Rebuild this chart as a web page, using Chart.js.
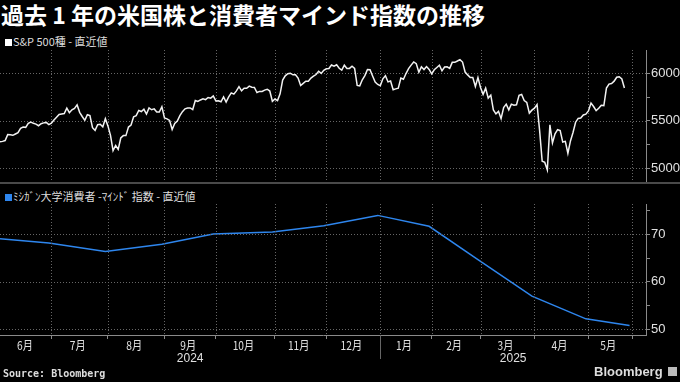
<!DOCTYPE html>
<html><head><meta charset="utf-8">
<script src="https://cdn.jsdelivr.net/npm/chart.js@4.4.1/dist/chart.umd.min.js"></script>
<style>
html,body{margin:0;padding:0;background:#000;width:680px;height:382px;overflow:hidden;}
#wrap{position:relative;width:680px;height:382px;background:#000;font-family:"Noto Sans CJK JP","Noto Sans",sans-serif;color:#e0e0e0;}
#title{position:absolute;left:1px;top:0px;font-size:23px;line-height:28px;font-weight:bold;color:#fff;white-space:nowrap;}
.leg{position:absolute;left:5px;font-size:11px;line-height:14px;color:#ddd;white-space:nowrap;}
.sq{display:inline-block;width:7px;height:7px;margin-right:1px;vertical-align:0px;}
canvas{position:absolute;left:0;}
#sep{position:absolute;left:0;top:182px;width:680px;height:2px;background:#4a4a4a;}
#src{position:absolute;left:3px;top:367px;font:bold 10px/14px "DejaVu Sans Mono",monospace;color:#ddd;}
#logo{position:absolute;left:594px;top:364px;font:bold 13px/16px "Liberation Sans",Arial,sans-serif;color:#ddd;}
#icon{position:absolute;left:668px;top:367px;width:9px;height:9px;background:#bbb;}
</style></head>
<body><div id="wrap">
<div id="title">過去 1 年の米国株と消費者マインド指数の推移</div>
<div class="leg" style="top:34px"><span class="sq" style="background:#fff"></span>S&amp;P 500種 - 直近値</div>
<div class="leg" style="top:189px"><span class="sq" style="background:#2e86ee"></span>ﾐｼｶﾞﾝ大学消費者 -ﾏｲﾝﾄﾞ 指数 - 直近値</div>
<canvas id="c1" width="680" height="133" style="top:50px"></canvas>
<div id="sep"></div>
<canvas id="c2" width="680" height="178" style="top:204px"></canvas>
<div id="src">Source: Bloomberg</div>
<div id="logo">Bloomberg</div>
<div id="icon"></div>
</div>
<script>
// S&P 500 daily closes, trading days from 2024-05-31 to 2025-05-21
const spx = [5278,
5283,5292,5354,5352,5347,5361,5375,5421,5434,5431,5473,5487,5473,5465,5448,5469,5478,5483,5460,
5475,5509,5537,5567,5572,5577,5633,5585,5615,5631,5667,5589,5545,5505,5564,5555,5427,5399,5459,5464,5436,5522,
5446,5347,5186,5240,5199,5319,5344,5344,5434,5455,5543,5554,5608,5597,5621,5571,5635,5616,5625,5592,5592,5648,
5529,5520,5503,5408,5471,5496,5554,5596,5626,5634,5635,5618,5714,5703,5719,5732,5722,5745,5738,5762,
5709,5710,5700,5751,5696,5751,5793,5780,5815,5859,5815,5843,5842,5865,5853,5851,5797,5809,5808,5823,5832,5813,5705,
5729,5712,5783,5929,5973,5996,6001,5984,5985,5949,5871,5894,5917,5917,5949,5969,5987,6021,5999,6032,
6047,6050,6087,6075,6090,6053,6034,6085,6051,6051,6074,6051,5872,5867,5931,5975,6040,6037,5971,5907,5882,
5869,5942,5975,5909,5918,5827,5836,5843,5950,5937,5997,6049,6086,6119,6101,6012,6068,6039,6071,6041,
5994,6037,6061,6084,6026,6066,6068,6052,6115,6115,6129,6144,6118,6013,5983,5955,5956,5861,5955,
5850,5778,5843,5739,5770,5615,5573,5599,5522,5639,5675,5615,5675,5663,5668,5768,5777,5712,5693,5581,5612,
5633,5671,5397,5074,5062,4983,5457,5268,5363,5406,5397,5276,5283,5158,5288,5376,5485,5525,5529,5561,5569,
5604,5687,5650,5607,5631,5664,5660,5844,5886,5892,5917,5958,5964,5940,5845];

// University of Michigan consumer sentiment (monthly), placed at month-end trading day index
const umichMonths = ['2024-05','2024-06','2024-07','2024-08','2024-09','2024-10','2024-11','2024-12','2025-01','2025-02','2025-03','2025-04','2025-05'];
const umichValues = [69.1,68.2,66.4,67.9,70.1,70.5,71.8,74.0,71.7,64.7,57.0,52.2,50.8];
const umichDay = [0,19,41,63,83,106,126,147,167,186,207,228,245];

// x axis: month boundaries (trading-day index) and labels
const monthBounds = [1,20,42,64,84,107,127,148,168,187,208,229,246];
const monthLabels = ['6月','7月','8月','9月','10月','11月','12月','1月','2月','3月','4月','5月'];
const yearLabels = ['2024','2025'];
const yearStarts = [0,148];
const xMax = 251.4;

// y axis ticks
const spxTicks = [5000,5250,5500,5750,6000,6250];
const spxMajor = 500;
const umichTicks = [50,55,60,65,70,75];
const umichMajor = 10;

Chart.defaults.font.family = '"Liberation Sans", Arial, sans-serif';
Chart.defaults.color = '#e0e0e0';

const GRID = '#666666';
const AXIS = '#8a8a8a';

function xScale(height, showBorder){
  return {
    type:'linear', min:0, max:xMax,
    afterBuildTicks: s => { s.ticks = monthBounds.slice(1).map(v => ({value:v})); },
    afterFit: s => { s.height = height; },
    ticks:{display:false, autoSkip:false},
    grid:{drawOnChartArea:false, drawTicks:showBorder, tickLength:4, tickColor:AXIS, color:AXIS},
    border:{display:showBorder, color:AXIS, width:1}
  };
}
function yScale(min, max, ticks, major){
  return {
    type:'linear', position:'right', min:min, max:max,
    afterBuildTicks: s => { s.ticks = ticks.map(v => ({value:v})); },
    afterFit: s => { s.width = 34; s.paddingTop = 0; s.paddingBottom = 0; },
    ticks:{autoSkip:false, padding:1, color:'#e0e0e0', font:{size:13},
      callback: v => (v % major === 0 ? String(v) : '')},
    grid:{drawOnChartArea:false, drawTicks:true, tickLength:4, tickColor:AXIS, color:AXIS},
    border:{display:true, color:AXIS, width:1}
  };
}

// dotted grid drawn at scale positions (month boundaries / major y ticks)
function drawDots(chart, major){
  const {ctx, chartArea} = chart;
  const x = chart.scales.x, y = chart.scales.y;
  ctx.save();
  ctx.fillStyle = GRID;
  for (const t of x.ticks){
    const px = Math.round(x.getPixelForValue(t.value));
    for (let py = Math.ceil(chartArea.top); py < chartArea.bottom; py += 3) ctx.fillRect(px, py, 1, 1);
  }
  for (const t of y.ticks){
    if (t.value % major !== 0) continue;
    const py = Math.round(y.getPixelForValue(t.value));
    for (let px = Math.ceil(chartArea.left); px < chartArea.right; px += 3) ctx.fillRect(px, py, 1, 1);
  }
  ctx.restore();
}

new Chart(document.getElementById('c1'), {
  type:'line',
  data:{datasets:[{data: spx.map((v,i)=>({x:i,y:v})), borderColor:'#f2f2f2', borderWidth:1.5, pointRadius:0, tension:0}]},
  options:{
    responsive:false, animation:false, layout:{padding:0},
    plugins:{legend:{display:false}, tooltip:{enabled:false}},
    scales:{x:xScale(0,false), y:yScale(4845,6245,spxTicks,spxMajor)}
  },
  plugins:[{id:'gridTop', beforeDatasetsDraw(chart){ drawDots(chart, spxMajor); }}]
});

const axisLabels = {
  id:'axisLabels',
  afterDraw(chart){
    drawDots(chart, umichMajor);
    const {ctx, chartArea} = chart;
    const x = chart.scales.x;
    ctx.save();
    ctx.fillStyle = '#e0e0e0';
    ctx.textAlign = 'center';
    ctx.textBaseline = 'middle';
    ctx.font = '12px "Noto Sans CJK JP"';
    for (let i = 0; i < monthLabels.length; i++){
      const xm = (x.getPixelForValue(monthBounds[i]) + x.getPixelForValue(monthBounds[i+1]))/2 - 2;
      ctx.save();
      ctx.translate(xm, chartArea.bottom + 10);
      ctx.scale(0.85, 1);
      ctx.fillText(monthLabels[i], 0, 0);
      ctx.restore();
    }
    ctx.font = '12px "Liberation Sans"';
    const edges = yearStarts.concat([xMax]);
    for (let i = 0; i < yearLabels.length; i++){
      const xm = (x.getPixelForValue(edges[i]) + x.getPixelForValue(edges[i+1]))/2;
      ctx.fillText(yearLabels[i], xm, chartArea.bottom + 24);
    }
    ctx.strokeStyle = '#666';
    ctx.lineWidth = 1;
    for (let i = 1; i < yearStarts.length; i++){
      const px = Math.round(x.getPixelForValue(yearStarts[i])) + 0.5;
      ctx.beginPath();
      ctx.moveTo(px, chartArea.bottom);
      ctx.lineTo(px, chartArea.bottom + 24);
      ctx.stroke();
    }
    ctx.restore();
  }
};

new Chart(document.getElementById('c2'), {
  type:'line',
  data:{datasets:[{data: umichValues.map((v,i)=>({x:umichDay[i], y:v})), borderColor:'#2e86ee', borderWidth:1.5, pointRadius:0, tension:0}]},
  options:{
    responsive:false, animation:false, layout:{padding:0},
    plugins:{legend:{display:false}, tooltip:{enabled:false}},
    scales:{x:xScale(47,true), y:yScale(48.8,76.4,umichTicks,umichMajor)}
  },
  plugins:[axisLabels]
});
</script>
</body></html>
